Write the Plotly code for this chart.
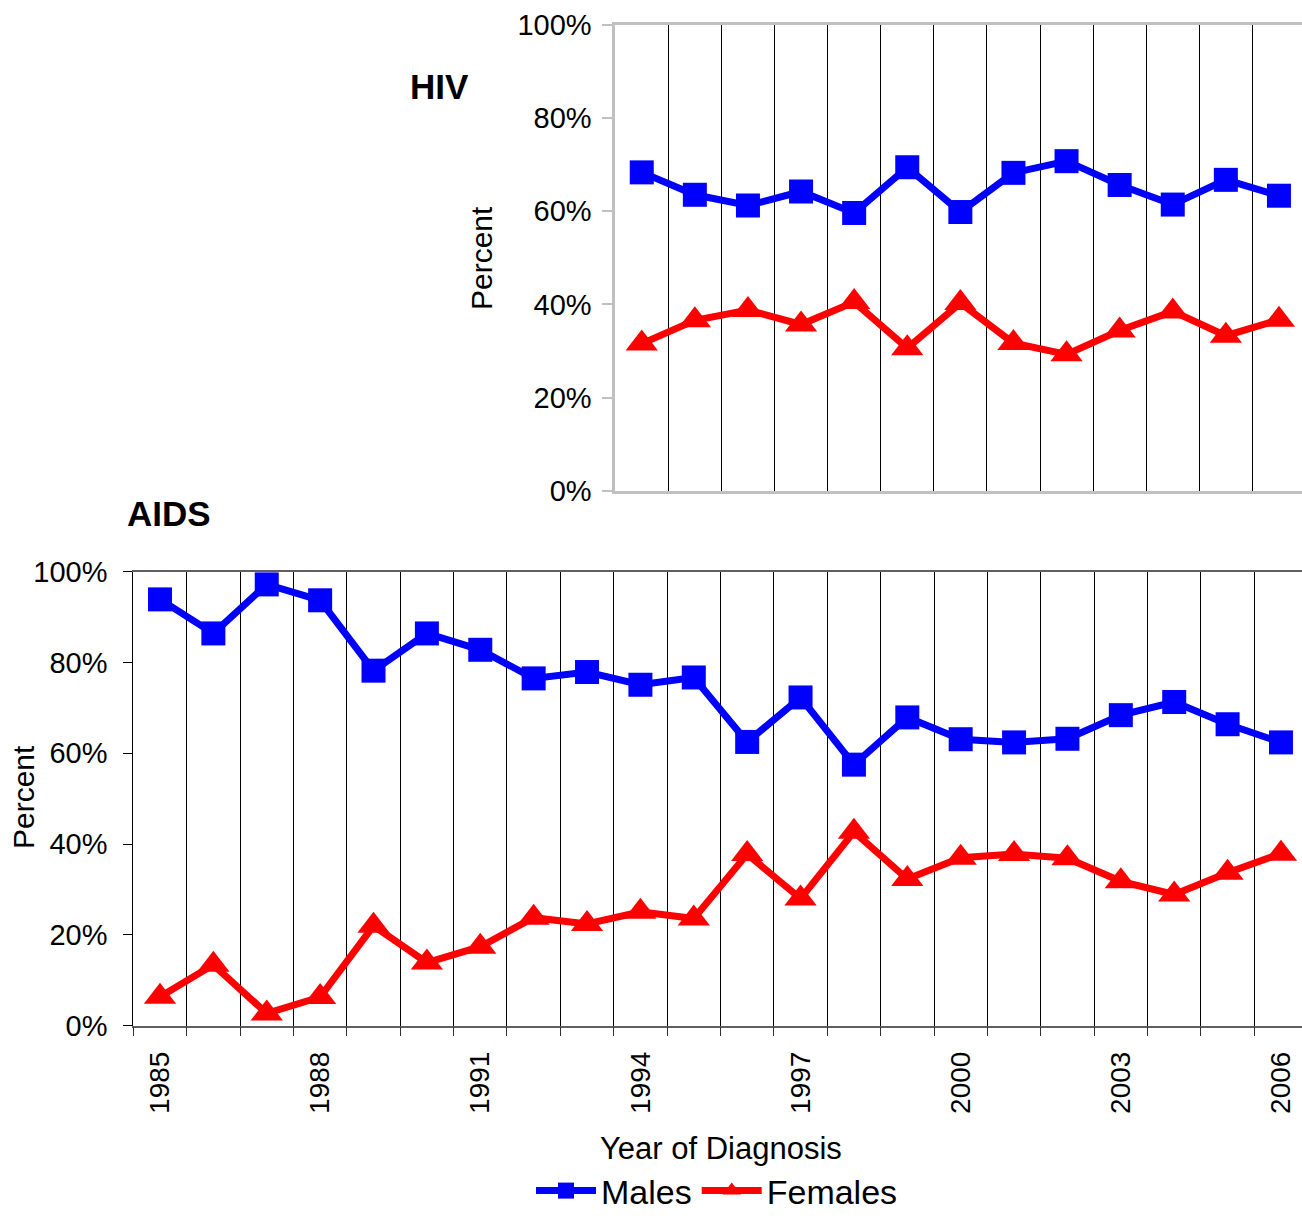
import plotly.graph_objects as go

W, H = 1302, 1220
FONT = "Liberation Sans, Arial, sans-serif"

# ---- data ----
aids_years = list(range(1985, 2007))
aids_males = [93.9, 86.4, 97.2, 93.7, 78.2, 86.4, 82.8, 76.5, 77.9, 75.1, 76.7,
              62.5, 72.3, 57.5, 67.9, 63.1, 62.4, 63.2, 68.4, 71.3, 66.4, 62.4]
aids_females = [6.4, 13.4, 2.7, 6.3, 22.0, 13.9, 17.4, 23.8, 22.4, 25.1, 23.6,
                37.8, 28.0, 42.7, 32.3, 37.0, 37.8, 36.9, 31.8, 28.9, 33.7, 37.9]

hiv_years = list(range(1994, 2007))
hiv_males = [68.3, 63.5, 61.2, 64.2, 59.6, 69.4, 59.8, 68.2, 70.7, 65.6, 61.4, 66.7, 63.3]
hiv_females = [31.6, 36.6, 38.8, 35.7, 40.5, 30.6, 40.3, 31.7, 29.3, 34.4, 38.5, 33.3, 36.7]

year_ticks = [1985, 1988, 1991, 1994, 1997, 2000, 2003, 2006]
pct_ticks = [0, 20, 40, 60, 80, 100]
pct_text = ["0%", "20%", "40%", "60%", "80%", "100%"]

series_names = ["Males", "Females"]
series_colors = ["#0000FF", "#FF0000"]
series_symbols = ["square", "triangle-up"]
series_sizes = [24, 28]

fig = go.Figure()

for i, (name, vals) in enumerate(zip(series_names, [aids_males, aids_females])):
    fig.add_trace(go.Scatter(
        x=aids_years, y=vals, name=name, mode="lines+markers",
        line=dict(color=series_colors[i], width=7),
        marker=dict(symbol=series_symbols[i], size=series_sizes[i], color=series_colors[i]),
        xaxis="x", yaxis="y", legendgroup=name, showlegend=True, cliponaxis=False))

for i, (name, vals) in enumerate(zip(series_names, [hiv_males, hiv_females])):
    fig.add_trace(go.Scatter(
        x=hiv_years, y=vals, name=name, mode="lines+markers",
        line=dict(color=series_colors[i], width=7),
        marker=dict(symbol=series_symbols[i], size=series_sizes[i], color=series_colors[i]),
        xaxis="x2", yaxis="y2", legendgroup=name, showlegend=False, cliponaxis=False))

# geometry (pixels)
aids_left, aids_top, aids_bottom = 133.3, 571.7, 1025.7
hiv_left, hiv_top, hiv_bottom = 615.2, 24.5, 491.0
step_aids = 53.38
step_hiv = 53.1

fig.update_layout(
    width=W, height=H, autosize=False,
    margin=dict(l=0, r=0, t=0, b=0, pad=0, autoexpand=False),
    paper_bgcolor="white", plot_bgcolor="white",
    font=dict(family=FONT, color="black", size=28),
    xaxis=dict(
        domain=[aids_left / W, 1.0], anchor="y",
        range=[1984.5, 1984.5 + (W - aids_left) / step_aids],
        tickmode="array", tickvals=year_ticks, ticktext=[str(v) for v in year_ticks],
        tickangle=-90, ticks="", showgrid=False, zeroline=False,
        tickfont=dict(size=28), ticklabelstandoff=13,
        showline=True, linecolor="#606060", linewidth=1.5, mirror=True,
        minor=dict(tick0=1984.5, dtick=1, ticks="outside", ticklen=9,
                   tickcolor="#303030", tickwidth=1,
                   showgrid=True, gridcolor="#000000", gridwidth=1),
    ),
    yaxis=dict(
        domain=[1 - aids_bottom / H, 1 - aids_top / H], anchor="x",
        range=[0, 100], tickmode="array", tickvals=pct_ticks, ticktext=pct_text,
        ticks="outside", ticklen=9, tickcolor="#000000", tickwidth=1,
        tickfont=dict(size=29), ticklabelstandoff=10,
        showgrid=False, zeroline=False,
        showline=True, linecolor="#000000", linewidth=1,
    ),
    xaxis2=dict(
        domain=[hiv_left / W, 1.0], anchor="y2",
        range=[1993.5, 1993.5 + (W - hiv_left) / step_hiv],
        showticklabels=False, ticks="", showgrid=False, zeroline=False,
        showline=True, linecolor="#C0C0C0", linewidth=2.5, mirror=True,
        minor=dict(tick0=1993.5, dtick=1, ticks="",
                   showgrid=True, gridcolor="#000000", gridwidth=1),
    ),
    yaxis2=dict(
        domain=[1 - hiv_bottom / H, 1 - hiv_top / H], anchor="x2",
        range=[0, 100], tickmode="array", tickvals=pct_ticks, ticktext=pct_text,
        ticks="outside", ticklen=10, tickcolor="#C0C0C0", tickwidth=2,
        tickfont=dict(size=29), ticklabelstandoff=5,
        showgrid=False, zeroline=False,
        showline=True, linecolor="#C0C0C0", linewidth=2.5,
    ),
    legend=dict(
        orientation="h", x=717 / W, xanchor="center", y=0.0, yanchor="bottom",
        font=dict(size=34, family=FONT), bgcolor="rgba(0,0,0,0)",
        itemwidth=60, tracegroupgap=0,
    ),
    showlegend=True,
)

annotations = [
    dict(text="<b>HIV</b>", x=408 / W, y=1 - 86 / H, xanchor="left", yanchor="middle",
         font=dict(size=35)),
    dict(text="<b>AIDS</b>", x=125 / W, y=1 - 513 / H, xanchor="left", yanchor="middle",
         font=dict(size=35)),
    dict(text="Percent", x=481 / W, y=1 - 258 / H, xanchor="center", yanchor="middle",
         textangle=-90, font=dict(size=30)),
    dict(text="Percent", x=23 / W, y=1 - 797 / H, xanchor="center", yanchor="middle",
         textangle=-90, font=dict(size=30)),
    dict(text="Year of Diagnosis", x=721 / W, y=1 - 1148 / H, xanchor="center", yanchor="middle",
         font=dict(size=31)),
]
for a in annotations:
    a.update(xref="paper", yref="paper", showarrow=False)
fig.update_layout(annotations=annotations)

fig.write_html("out.html", config={"displayModeBar": False},
               post_script="document.body.style.margin='0';document.body.style.padding='0';")
